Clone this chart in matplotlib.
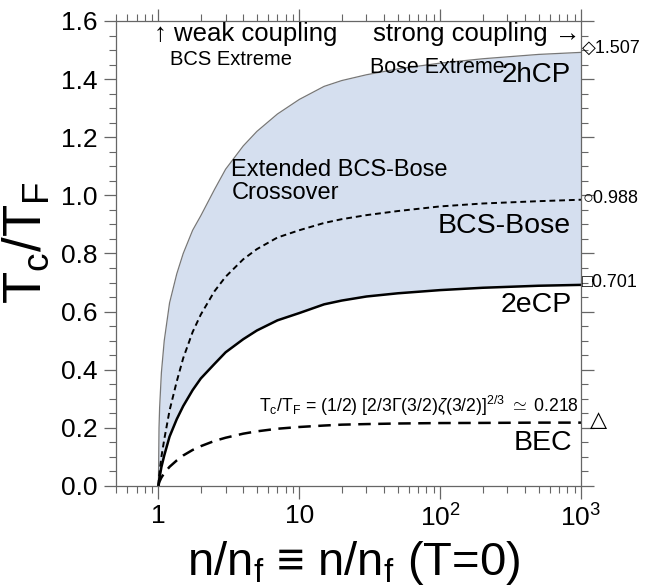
import numpy as np
import matplotlib
matplotlib.use('Agg')
import matplotlib.pyplot as plt
from matplotlib.ticker import LogLocator, MultipleLocator, FixedLocator, NullFormatter

plt.rcParams['font.family'] = ['Liberation Sans', 'DejaVu Sans']
plt.rcParams['mathtext.fontset'] = 'custom'
plt.rcParams['mathtext.rm'] = 'Liberation Sans'
plt.rcParams['mathtext.it'] = 'Liberation Sans:italic'

# values
n_ratio = [1, 1.01, 1.02, 1.05, 1.1, 1.2, 1.35, 1.5, 1.75, 2, 2.5, 3, 4, 5, 7,
           10, 15, 20, 30, 50, 100, 200, 500, 1000]
tc_2hcp = [0, 0.20, 0.27, 0.39, 0.50, 0.63, 0.73, 0.80, 0.88, 0.93, 1.02,
           1.09, 1.17, 1.22, 1.28, 1.33, 1.375, 1.395, 1.415, 1.435, 1.455,
           1.47, 1.485, 1.492]
tc_bcsbose = [0, 0.03, 0.05, 0.10, 0.16, 0.26, 0.36, 0.44, 0.53, 0.59, 0.67,
              0.72, 0.78, 0.815, 0.855, 0.88, 0.905, 0.918, 0.932, 0.946,
              0.962, 0.972, 0.980, 0.985]
tc_2ecp = [0, 0.018, 0.03, 0.065, 0.105, 0.17, 0.23, 0.275, 0.33, 0.37, 0.42,
           0.46, 0.505, 0.535, 0.57, 0.595, 0.625, 0.638, 0.652, 0.663, 0.674,
           0.682, 0.689, 0.692]
tc_bec = [0, 0.010, 0.016, 0.029, 0.044, 0.066, 0.088, 0.105, 0.124, 0.137,
          0.155, 0.166, 0.180, 0.188, 0.197, 0.203, 0.208, 0.211, 0.213,
          0.215, 0.2165, 0.217, 0.218, 0.218]

limit_labels = ['\u25c71.507', '\u25cb0.988', '\u25a10.701']
limit_values = [1.507, 0.988, 0.701]

fig = plt.figure(figsize=(6.61, 5.88), dpi=100)
ax = fig.add_axes([0.1755, 0.1735, 0.7035, 0.7908])

ax.fill_between(n_ratio, tc_2ecp, tc_2hcp, color='#d5dfef', lw=0)
ax.plot(n_ratio, tc_2hcp, color='#777777', lw=0.9)
ax.plot(n_ratio, tc_bcsbose, color='black', lw=1.4, ls=(0, (3, 2)))
ax.plot(n_ratio, tc_2ecp, color='black', lw=1.8)
ax.plot(n_ratio, tc_bec, color='black', lw=1.8, ls=(0, (5, 3)))

ax.set_xscale('log')
ax.set_xlim(0.5, 1000)
ax.set_ylim(0, 1.6)

ax.xaxis.set_major_locator(FixedLocator([1, 10, 100, 1000]))
ax.set_xticklabels(['1', '10', r'$\mathregular{10^2}$', r'$\mathregular{10^3}$'])
ax.xaxis.set_minor_locator(LogLocator(base=10, subs=np.arange(2, 10)))
ax.xaxis.set_minor_formatter(NullFormatter())
ax.yaxis.set_minor_locator(MultipleLocator(0.05))
ax.set_yticks(np.arange(0, 1.61, 0.2))
ax.set_yticklabels(['%.1f' % v for v in np.arange(0, 1.61, 0.2)])

ax.tick_params(which='both', direction='out', color='#666666', top=True, right=True,
               labelsize=19, pad=4)
ax.tick_params(which='major', length=9, width=0.9)
ax.tick_params(which='minor', length=5, width=0.8)
for s in ax.spines.values():
    s.set_color('#666666')
    s.set_linewidth(0.9)

ax.set_ylabel(r'T$_\mathregular{c}$/T$_\mathregular{F}$', fontsize=38)
ax.yaxis.set_label_coords(-0.138, 0.523)
ax.set_xlabel('n/n$_\\mathregular{f}$ \u2261 n/n$_\\mathregular{f}$ (T=0)', fontsize=34)
ax.xaxis.set_label_coords(0.511, -0.115)

ax.text(0.93, 1.595, '\u2191 weak coupling', fontsize=18.5, va='top', ha='left')
ax.text(1.2, 1.50, 'BCS Extreme', fontsize=14.5, va='top', ha='left')
ax.text(990, 1.595, 'strong coupling \u2192', fontsize=18.5, va='top', ha='right')
ax.text(32, 1.475, 'Bose Extreme', fontsize=15.5, va='top', ha='left')
ax.text(850, 1.39, '2hCP', fontsize=20, va='baseline', ha='right')
ax.text(3.3, 1.125, 'Extended BCS-Bose\nCrossover', fontsize=17, va='top', ha='left',
        linespacing=1.05)
ax.text(845, 0.871, 'BCS-Bose', fontsize=20.5, va='baseline', ha='right')
ax.text(864, 0.599, '2eCP', fontsize=20.5, va='baseline', ha='right')
ax.text(970, 0.255,
        r'T$_\mathregular{c}$/T$_\mathregular{F}$ = (1/2) [2/3$\Gamma$(3/2)$\zeta$(3/2)]$^\mathregular{2/3}$ $\simeq$ 0.218',
        fontsize=12.7, va='baseline', ha='right')
ax.text(864, 0.124, 'BEC', fontsize=20.5, va='baseline', ha='right')

tr = ax.get_yaxis_transform()
for lab, v in zip(limit_labels, limit_values):
    ax.text(1.003, v, lab, transform=tr, fontsize=13, va='center', ha='left', clip_on=False)
ax.text(1.02, 0.227, '\u25b3', transform=tr, fontsize=16, va='center', ha='left', clip_on=False)

fig.savefig('out.png', dpi=100)
